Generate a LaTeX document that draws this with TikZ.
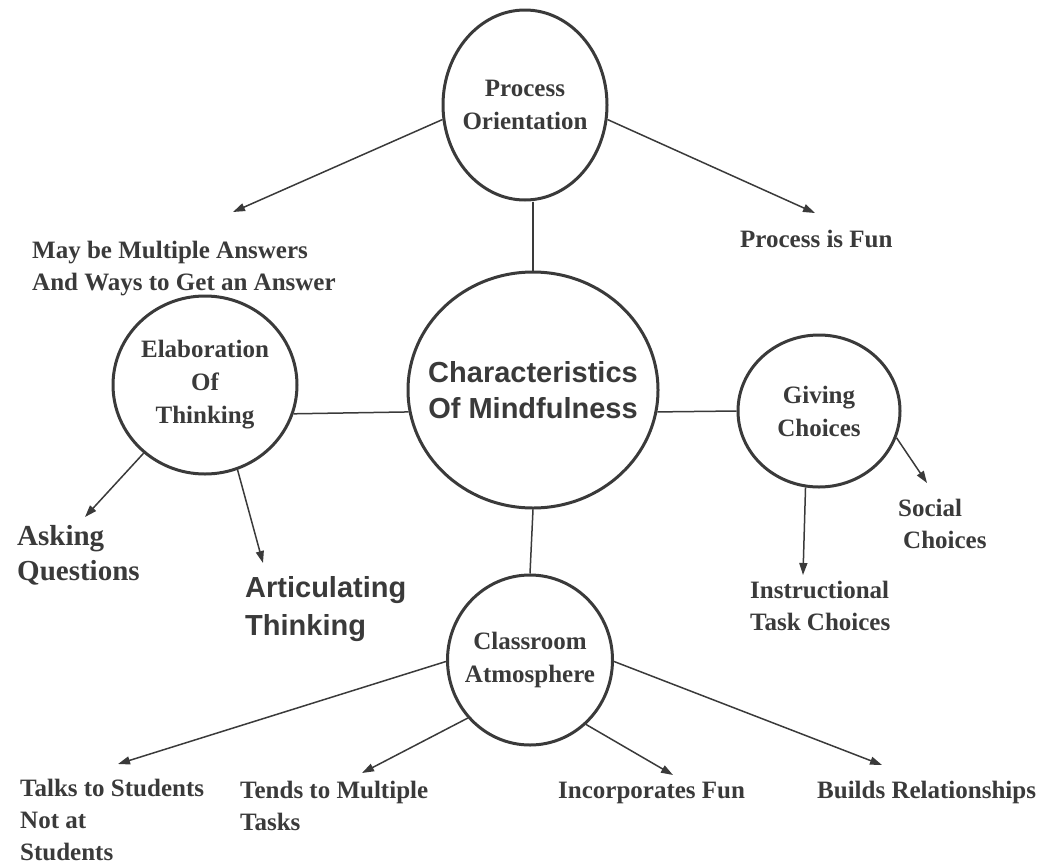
\documentclass[tikz,border=0pt]{standalone}
\usepackage{fontspec}
\setmainfont{Liberation Serif}
\newfontfamily\fuentesans{Liberation Sans}
\usepackage{tikz}
\usetikzlibrary{shapes.geometric, arrows.meta, positioning}
\definecolor{tinta}{RGB}{58,58,58}
\tikzset{
  burbuja/.style={ellipse, draw=tinta, line width=3pt, inner sep=-12pt,
    align=center, text=tinta, font=\fontsize{25}{33}\selectfont\bfseries},
  burbujac/.style={burbuja, inner sep=-25pt,
    font=\fuentesans\fontsize{29}{36}\selectfont\bfseries},
  etiq/.style={anchor=base west, inner sep=0pt, align=left, text=tinta,
    font=\fontsize{25}{32}\selectfont\bfseries},
  etiqg/.style={etiq, font=\fontsize{29}{35}\selectfont\bfseries},
  etiqs/.style={etiq, font=\fuentesans\fontsize{29}{38}\selectfont\bfseries},
  flecha/.style={-{Triangle[length=12pt,width=8pt]}, line width=1.5pt, color=tinta},
  linea/.style={line width=1.5pt, color=tinta}
}

\begin{document}
\begin{tikzpicture}[x=1pt, y=-1pt]
  \useasboundingbox (0,0) rectangle (1057,865);
  % nodo central
  \node[burbujac, minimum width=250pt, minimum height=236pt] (centro) at (533,390)
    {Characteristics\\Of Mindfulness};
  % cuatro burbujas alrededor
  \node[burbuja, minimum width=164pt, minimum height=190pt,
    above=69pt of centro, xshift=-8pt] (proc) {Process\\Orientation};
  \node[burbuja, minimum width=184pt, minimum height=178pt,
    left=108pt of centro, yshift=5pt] (elab) {Elaboration\\Of\\Thinking};
  \node[burbuja, minimum width=162pt, minimum height=152pt,
    right=77pt of centro, yshift=-21pt] (elec) {Giving\\Choices};
  \node[burbuja, minimum width=165pt, minimum height=170pt,
    below=64pt of centro, xshift=-3pt] (aula) {Classroom\\Atmosphere};
  % textos (base = ultima linea)
  \node[etiq] (multi) at (32,290) {May be Multiple Answers\\And Ways to Get an Answer};
  \node[etiq] (fun) at (740,247) {Process is Fun};
  \node[etiqg] (preg) at (17,580) {Asking\\Questions};
  \node[etiqs] (artic) at (245,635) {Articulating\\Thinking};
  \node[etiq] (social) at (898,548) {Social\\\hspace*{5pt}Choices};
  \node[etiq] (instr) at (750,630) {Instructional\\Task Choices};
  \node[etiq] (talks) at (20,860) {Talks to Students\\Not at\\Students};
  \node[etiq] (tends) at (240,830) {Tends to Multiple\\Tasks};
  \node[etiq] (incorp) at (558,798) {Incorporates Fun};
  \node[etiq] (builds) at (817,798) {Builds Relationships};
  % puntas de flecha
  \coordinate (pMulti) at (233,212);
  \coordinate (pFun) at (815,213);
  \coordinate (pPreg) at (85,517);
  \coordinate (pArtic) at (263,563);
  \coordinate (pSocial) at (927,483);
  \coordinate (pInstr) at (803,575);
  \coordinate (pTalks) at (118,764);
  \coordinate (pTends) at (362,773);
  \coordinate (pIncorp) at (673,775);
  \coordinate (pBuilds) at (882,765);
  % uniones
  \draw[linea] (proc.south -| centro.north) -- (centro.north);
  \draw[linea] (elab.-18) -- (centro.190.6);
  \draw[linea] (centro.-10.6) -- (elec.west);
  \draw[linea] (centro.south) -- (aula.north);
  \draw[flecha] (proc.190) -- (pMulti);
  \draw[flecha] (proc.-10) -- (pFun);
  \draw[flecha] (elab.228) -- (pPreg);
  \draw[flecha] (elab.-69) -- (pArtic);
  \draw[flecha] (elec.-19) -- (pSocial);
  \draw[flecha] (elec.-100) -- (pInstr);
  \draw[flecha] (aula.181) -- (pTalks);
  \draw[flecha] (aula.223) -- (pTends);
  \draw[flecha] (aula.-49) -- (pIncorp);
  \draw[flecha] (aula.-1) -- (pBuilds);
\end{tikzpicture}
\end{document}
